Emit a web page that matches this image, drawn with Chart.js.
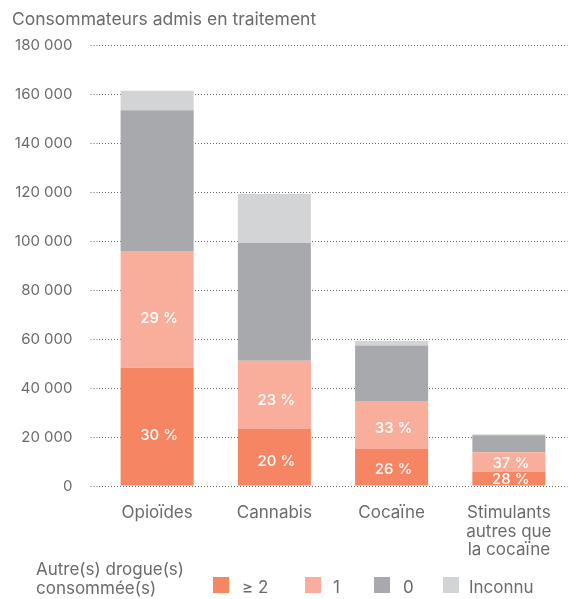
<!DOCTYPE html>
<html lang="fr">
<head>
    <meta charset="UTF-8">
    <title>Consommateurs admis en traitement</title>
    <script src="https://cdn.jsdelivr.net/npm/chart.js"></script>
    <style>
        body { margin: 0; background: #fff; }
        #wrap { width: 578px; height: 599px; }
    </style>
</head>
<body>
    <div id="wrap"><canvas id="myChart" width="578" height="599"></canvas></div>
    <script>
        // données
        const categories = ['Opioïdes', 'Cannabis', 'Cocaïne', ['Stimulants', 'autres que', 'la cocaïne']];
        const seriesNames = ['≥ 2', '1', '0', 'Inconnu'];
        const deuxOuPlus = [48300, 23300, 15100, 5700];
        const une = [47600, 27800, 19600, 8100];
        const aucune = [57500, 48100, 22600, 6900];
        const inconnu = [7900, 20000, 2000, 400];
        const pctDeuxOuPlus = ['30 %', '20 %', '26 %', '28 %'];
        const pctUne = ['29 %', '23 %', '33 %', '37 %'];
        const yTicks = [0, 20000, 40000, 60000, 80000, 100000, 120000, 140000, 160000, 180000];

        const colors = ['#f58563', '#f9ae9b', '#a8a9ac', '#d3d4d5'];
        const textColor = '#6b6b6b';
        const fontFamily = 'Inter, "Open Sans", sans-serif';

        const fmt = v => String(v).replace(/\B(?=(\d{3})+(?!\d))/g, ' ');

        // pourcentages en blanc dans les barres
        const pctPlugin = {
            id: 'pct',
            afterDatasetsDraw(chart) {
                const ctx = chart.ctx;
                ctx.save();
                ctx.fillStyle = '#fff';
                ctx.font = '500 15px ' + fontFamily;
                ctx.textAlign = 'center';
                ctx.textBaseline = 'middle';
                [pctDeuxOuPlus, pctUne].forEach((labels, di) => {
                    chart.getDatasetMeta(di).data.forEach((bar, i) => {
                        const h = Math.abs(bar.base - bar.y);
                        const shift = Math.max(0, Math.min(8, (h - 20) / 10));
                        ctx.fillText(labels[i], bar.x + 2, (bar.y + bar.base) / 2 + shift + 1);
                    });
                });
                ctx.restore();
            }
        };

        // titre et légende
        const decorPlugin = {
            id: 'decor',
            afterDraw(chart) {
                const ctx = chart.ctx;
                ctx.save();
                ctx.fillStyle = textColor;
                ctx.textBaseline = 'alphabetic';
                ctx.textAlign = 'left';
                ctx.font = '17.5px ' + fontFamily;
                ctx.fillText('Consommateurs admis en traitement', 12, 25);

                ctx.font = '17px ' + fontFamily;
                ctx.fillText('Autre(s) drogue(s)', 36, 575);
                ctx.fillText('consommée(s)', 36, 594);

                const boxX = [213, 305, 374, 443];
                const textX = [242, 333, 403, 469];
                seriesNames.forEach((name, i) => {
                    ctx.fillStyle = colors[i];
                    ctx.fillRect(boxX[i], 577, 16, 16);
                    ctx.fillStyle = textColor;
                    ctx.fillText(name, textX[i], 593);
                });
                ctx.restore();
            }
        };

        const ctx = document.getElementById('myChart').getContext('2d');
        new Chart(ctx, {
            type: 'bar',
            data: {
                labels: categories,
                datasets: [
                    { label: seriesNames[0], data: deuxOuPlus, backgroundColor: colors[0] },
                    { label: seriesNames[1], data: une, backgroundColor: colors[1] },
                    { label: seriesNames[2], data: aucune, backgroundColor: colors[2] },
                    { label: seriesNames[3], data: inconnu, backgroundColor: colors[3] }
                ]
            },
            options: {
                responsive: false,
                animation: false,
                layout: { padding: { top: 45, right: 10.5, left: 0, bottom: 0 } },
                datasets: {
                    bar: { categoryPercentage: 1, barPercentage: 0.623, borderWidth: 0 }
                },
                plugins: {
                    legend: { display: false },
                    tooltip: { enabled: false }
                },
                scales: {
                    x: {
                        stacked: true,
                        grid: { display: false },
                        border: { display: false },
                        ticks: {
                            color: textColor,
                            padding: 10,
                            maxRotation: 0,
                            font: { family: fontFamily, size: 17, lineHeight: 1.09 }
                        },
                        afterFit(scale) { scale.height = 113; }
                    },
                    y: {
                        stacked: true,
                        min: 0,
                        max: 180000,
                        afterBuildTicks(scale) { scale.ticks = yTicks.map(v => ({ value: v })); },
                        border: { display: false, dash: [1, 2] },
                        grid: {
                            color: '#6a6a6a',
                            lineWidth: 1,
                            tickLength: 8,
                            tickColor: '#6a6a6a',
                            tickBorderDash: [1, 2]
                        },
                        ticks: {
                            color: textColor,
                            padding: 18,
                            font: { family: fontFamily, size: 15 },
                            callback: v => fmt(v)
                        },
                        afterFit(scale) { scale.width = 98.5; }
                    }
                }
            },
            plugins: [pctPlugin, decorPlugin]
        });
    </script>
</body>
</html>
